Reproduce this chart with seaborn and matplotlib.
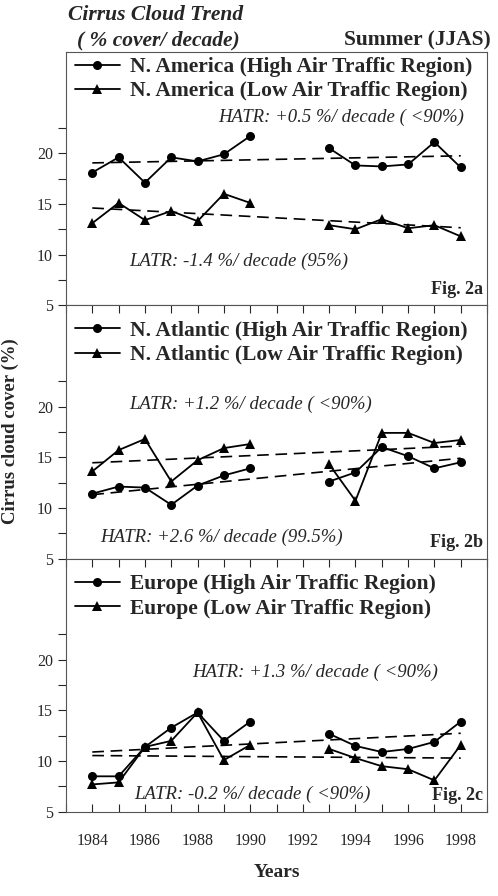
import numpy as np
import pandas as pd
import seaborn as sns
import matplotlib
matplotlib.use("Agg")
import matplotlib.pyplot as plt

# годы наблюдений (1991-1992 - пропуск)
years = [1984, 1985, 1986, 1987, 1988, 1989, 1990, 1993, 1994, 1995, 1996, 1997, 1998]
segment = [0, 0, 0, 0, 0, 0, 0, 1, 1, 1, 1, 1, 1]

regions = ["N. America", "N. Atlantic", "Europe"]
fig_tags = ["Fig. 2a", "Fig. 2b", "Fig. 2c"]

high_na = [18.1, 19.6, 17.1, 19.6, 19.2, 19.9, 21.7, 20.5, 18.8, 18.7, 18.9, 21.1, 18.6]
low_na = [13.1, 15.1, 13.4, 14.3, 13.3, 16.0, 15.1, 12.9, 12.5, 13.5, 12.6, 12.9, 11.8]
high_atl = [11.4, 12.1, 12.0, 10.3, 12.2, 13.2, 13.9, 12.6, 13.5, 16.0, 15.1, 13.9, 14.5]
low_atl = [13.6, 15.7, 16.8, 12.6, 14.7, 15.9, 16.3, 14.3, 10.7, 17.4, 17.4, 16.4, 16.7]
high_eu = [8.5, 8.5, 11.4, 13.3, 14.8, 12.0, 13.9, 12.7, 11.5, 10.9, 11.2, 11.9, 13.9]
low_eu = [7.7, 7.9, 11.4, 12.0, 14.8, 10.1, 11.6, 11.2, 10.3, 9.5, 9.2, 8.1, 11.6]

# линии тренда: значения в 1984 и 1998
trend_years = [1984, 1998]
trend_high = [[19.05, 19.75], [11.3, 14.9], [10.9, 12.75]]
trend_low = [[14.6, 12.65], [14.45, 16.1], [10.55, 10.3]]

hatr_text = ["HATR: +0.5 %/ decade ( <90%)", "HATR: +2.6 %/ decade (99.5%)", "HATR: +1.3 %/ decade ( <90%)"]
latr_text = ["LATR: -1.4 %/ decade (95%)", "LATR: +1.2 %/ decade ( <90%)", "LATR: -0.2 %/ decade ( <90%)"]
hatr_pos = [(1988.8, 23.5), (1984.3, 7.1), (1987.8, 18.8)]
latr_pos = [(1985.4, 9.3), (1985.4, 20.2), (1985.6, 6.7)]

high_all = [high_na, high_atl, high_eu]
low_all = [low_na, low_atl, low_eu]
legend_top = [0.997, 0.955, 0.955]

sns.set_style("ticks")
plt.rcParams["font.family"] = ["Liberation Serif", "DejaVu Serif"]

fig, axes = plt.subplots(3, 1, figsize=(4.98, 8.96), dpi=100, sharex=True)
fig.subplots_adjust(left=0.1325, right=0.978, top=0.942, bottom=0.094, hspace=0)

for i, ax in enumerate(axes):
    name_h = regions[i] + " (High Air Traffic Region)"
    name_l = regions[i] + " (Low Air Traffic Region)"
    df = pd.DataFrame({
        "year": years * 2,
        "cover": high_all[i] + low_all[i],
        "series": [name_h] * len(years) + [name_l] * len(years),
        "seg": segment * 2,
    })
    sns.lineplot(data=df, x="year", y="cover", style="series", units="seg",
                 estimator=None, markers={name_h: "o", name_l: "^"}, dashes=False,
                 color="black", linewidth=1.3, markersize=6.5, markeredgewidth=0,
                 ax=ax)
    ax.plot(trend_years, trend_high[i], color="black", lw=1.2, dashes=(7, 4))
    ax.plot(trend_years, trend_low[i], color="black", lw=1.2, dashes=(7, 4))

    handles, labels = ax.get_legend_handles_labels()
    keep = [(h, l) for h, l in zip(handles, labels) if l in (name_h, name_l)]
    ax.legend([k[0] for k in keep], [k[1] for k in keep], loc="upper left",
              bbox_to_anchor=(0.01, legend_top[i]),
              frameon=False, prop={"weight": "bold", "size": 15.5},
              handlelength=2.1, handletextpad=0.5, borderaxespad=0.1,
              borderpad=0.1, labelspacing=0.2)

    ax.text(*hatr_pos[i], hatr_text[i], style="italic", fontsize=13.5, va="center")
    ax.text(*latr_pos[i], latr_text[i], style="italic", fontsize=13.5, va="center")
    ax.text(0.99, 0.03, fig_tags[i], transform=ax.transAxes, ha="right", va="bottom",
            fontsize=13, weight="bold")

    ax.set_xlim(1983, 1999)
    ax.set_ylim(5, 30)
    ax.set_yticks(np.arange(5, 23, 2.5))
    ax.set_yticklabels(["5", "", "10", "", "15", "", "20", ""])
    ax.set_xticks(np.arange(1983, 2000, 1))
    ax.set_xlabel("")
    ax.set_ylabel("")
    ax.tick_params(axis="y", direction="out", length=6, labelsize=11.5)
    if i == 0:
        ax.tick_params(axis="x", bottom=False, top=False)
    elif i == 1:
        ax.tick_params(axis="x", bottom=False, top=True, direction="in", length=6)
    else:
        ax.tick_params(axis="x", bottom=True, top=True, direction="in", length=6,
                       labelsize=11.5)
    for s in ax.spines.values():
        s.set_linewidth(0.8)
        s.set_color("#555555")

xt = axes[2].get_xticks()
axes[2].set_xticklabels([str(int(t)) if int(t) % 2 == 0 else "" for t in xt])
axes[2].tick_params(axis="x", pad=15)
axes[2].set_xlabel("Years", fontsize=14, weight="bold", labelpad=11)
fig.text(0.02, 0.519, "Cirrus cloud cover (%)", rotation=90, fontsize=13.5,
         weight="bold", ha="center", va="center")

fig.text(0.137, 0.983, "Cirrus Cloud Trend", fontsize=15.5, weight="bold",
         style="italic", va="center")
fig.text(0.155, 0.955, "( % cover/ decade)", fontsize=15.5, weight="bold",
         style="italic", va="center")
fig.text(0.985, 0.955, "Summer (JJAS)", fontsize=15.5, weight="bold", ha="right",
         va="center")

fig.savefig("out.png", dpi=100)
